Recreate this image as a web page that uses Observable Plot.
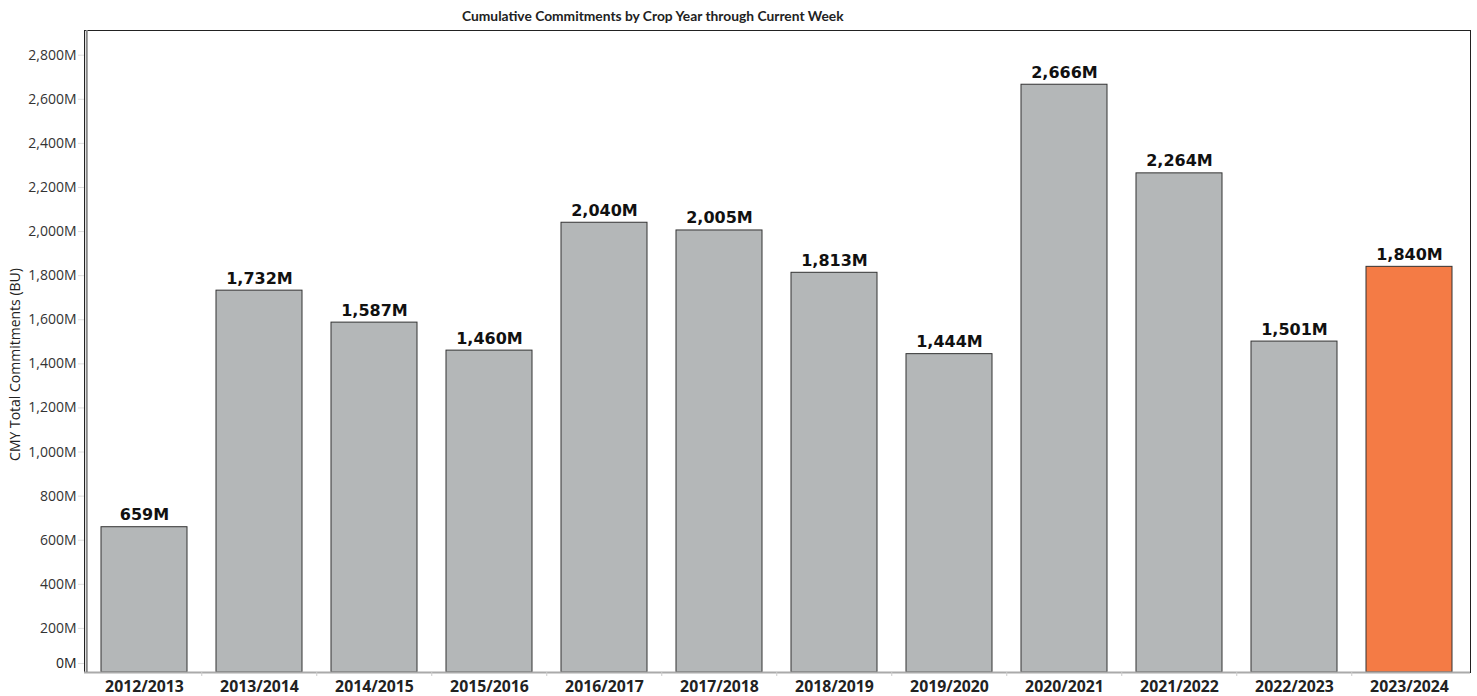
<!DOCTYPE html>
<html>
<head>
<meta charset="utf-8">
<script src="https://cdn.jsdelivr.net/npm/d3@7"></script>
<script src="https://cdn.jsdelivr.net/npm/@observablehq/plot@0.6"></script>
<style>
  body { margin: 0; background: #fff; font-family: "Open Sans", sans-serif; }
  #title { height: 29px; line-height: 32px; padding-left: 462px; font-family: Lato, sans-serif; font-size: 13.8px; font-weight: 700; color: #222; white-space: nowrap; }
  svg { display: block; }
</style>
</head>
<body>
<div id="title">Cumulative Commitments by Crop Year through Current Week</div>
<div id="chart"></div>
<script>
const cropYears = ["2012/2013","2013/2014","2014/2015","2015/2016","2016/2017","2017/2018","2018/2019","2019/2020","2020/2021","2021/2022","2022/2023","2023/2024"];
const commitments = [659, 1732, 1587, 1460, 2040, 2005, 1813, 1444, 2666, 2264, 1501, 1840];
const currentYear = "2023/2024";
const yTicks = [0,200,400,600,800,1000,1200,1400,1600,1800,2000,2200,2400,2600,2800];

const data = cropYears.map((c, i) => ({year: c, value: commitments[i], current: c === currentYear}));
const W = 1477, H = 667, ML = 84, MR = 7, MT = 1, MB = 24;
const step = (W - ML - MR) / cropYears.length;
const fmt = d => d3.format(",")(d) + "M";

const chart = Plot.plot({
  width: W, height: H,
  marginLeft: ML, marginRight: MR, marginTop: MT, marginBottom: MB,
  style: {fontFamily: "Open Sans, sans-serif", color: "#222", background: "#fff"},
  x: {type: "band", domain: cropYears, paddingInner: 0.25, paddingOuter: 0.125},
  y: {type: "linear", domain: [0, 2912]},
  marks: [
    Plot.barY(data, {x: "year", y: "value", fill: d => d.current ? "#f47b45" : "#b4b7b8", stroke: "#333", strokeWidth: 1}),
    Plot.text(data, {x: "year", y: "value", text: d => fmt(d.value), lineAnchor: "bottom", dy: -7, fontFamily: "DejaVu Sans", fontSize: 16, fontWeight: 700, fill: "#111"}),
    Plot.frame({stroke: "#222", strokeWidth: 1}),
    Plot.ruleY([0], {stroke: "#aaa", strokeWidth: 2}),
    Plot.ruleX(cropYears.slice(1), {x: d => d, y1: 0, y2: 0, insetBottom: -4, dx: -step / 2, stroke: "#ccc", strokeWidth: 1}),
    Plot.ruleX([cropYears[0]], {x: d => d, dx: -step / 2, stroke: "#888", strokeWidth: 2}),
    Plot.axisY(yTicks.filter(d => d > 0), {tickSize: 6, tickPadding: 2, tickFormat: fmt, fontSize: 14, stroke: "#ddd", color: "#333", label: null}),
    Plot.axisY([0], {tickSize: 6, tickPadding: 2, tickFormat: fmt, fontSize: 14, dy: -9, stroke: "#ddd", label: null}),
    Plot.axisX({tickSize: 0, tickPadding: 8, fontSize: 15.8, fontWeight: 700, label: null}),
    Plot.text(["CMY Total Commitments (BU)"], {frameAnchor: "left", textAnchor: "middle", dx: -69, dy: 13, rotate: -90, fontSize: 14, fill: "#222"})
  ]
});
document.getElementById("chart").appendChild(chart);
</script>
</body>
</html>
